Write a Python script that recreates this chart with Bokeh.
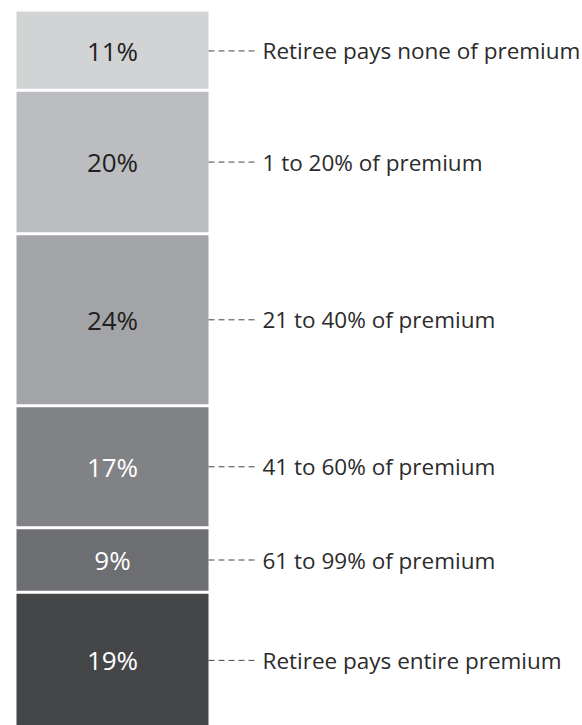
import numpy as np
from bokeh.plotting import figure
from bokeh.models import Range1d, ColumnDataSource
from bokeh.core.properties import value
from bokeh.embed import file_html
from bokeh.resources import INLINE

# Data (top to bottom)
categories = ["Retiree pays none of premium", "1 to 20% of premium", "21 to 40% of premium",
              "41 to 60% of premium", "61 to 99% of premium", "Retiree pays entire premium"]
shares = [11, 20, 24, 17, 9, 19]
colors = ["#D1D3D4", "#BBBDC0", "#A2A4A7", "#808285", "#6D6E71", "#454648"]
pct_colors = ["#231F20", "#231F20", "#231F20", "#FFFFFF", "#FFFFFF", "#FFFFFF"]

shares_arr = np.array(shares, dtype=float)
tops = 100 - np.concatenate([[0], np.cumsum(shares_arr)[:-1]])
bottoms = tops - shares_arr
mids = (tops + bottoms) / 2

W, H = 582, 725
px_per = 7.17           # pixels per percentage point
top_px = 11
bottom_px = top_px + 100 * px_per
gap = 3 / px_per        # white gap between segments, in data units

p = figure(width=W, height=H, output_backend="svg", toolbar_location=None,
           x_range=Range1d(0, W),
           y_range=Range1d((bottom_px - H) / px_per, 100 + top_px / px_per),
           min_border=0, outline_line_color=None)
p.axis.visible = False
p.grid.visible = False
p.background_fill_color = "white"
p.border_fill_color = "white"

bar_left, bar_right = 16, 208
src = ColumnDataSource(dict(
    top=tops - np.where(np.arange(len(shares)) == 0, 0, gap / 2),
    bottom=bottoms + gap / 2,
    color=colors,
    mid=mids,
    pct=[f"{s}%" for s in shares],
    pct_color=pct_colors,
    cat=categories,
))

p.quad(left=bar_left, right=bar_right, top="top", bottom="bottom",
       fill_color="color", line_color=None, source=src)

p.text(x=(bar_left + bar_right) / 2, y="mid", text="pct", text_color="pct_color",
       text_font=value("Open Sans"), text_font_size="26px",
       text_align="center", text_baseline="middle", source=src)

p.segment(x0=bar_right, x1=256, y0="mid", y1="mid", line_color="#444444",
          line_width=1, line_dash="6 4", source=src)

p.text(x=262, y="mid", text="cat", text_color="#2B2B2B",
       text_font=value("Open Sans"), text_font_size="22.5px",
       text_align="left", text_baseline="middle", source=src)

open("out.html", "w").write(file_html(p, INLINE))
